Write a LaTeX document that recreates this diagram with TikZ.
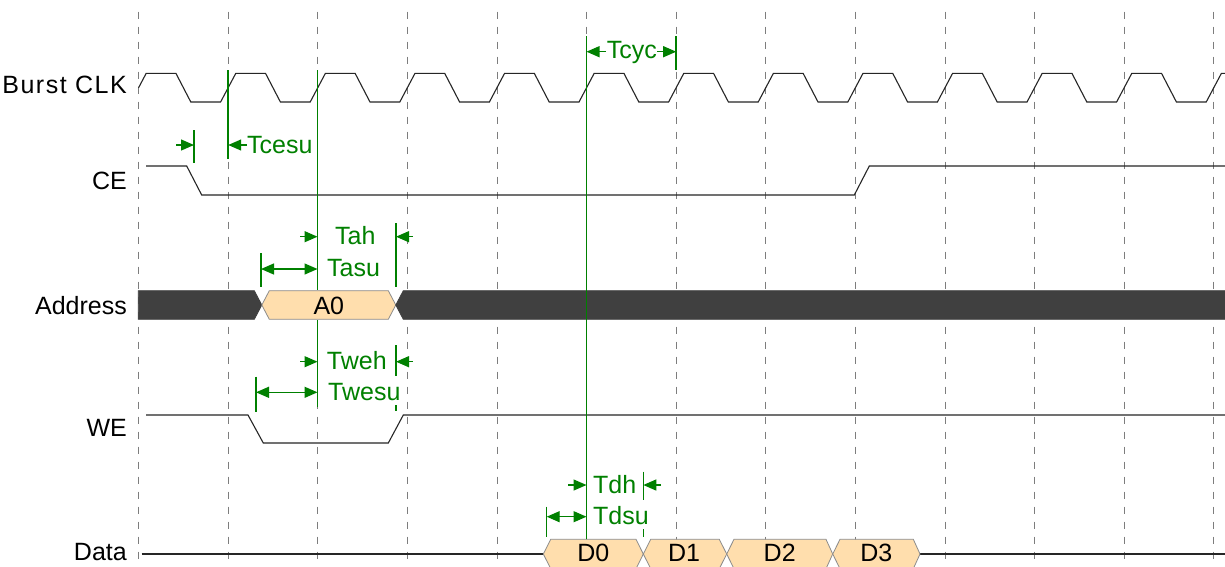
\documentclass[tikz,border=0pt]{standalone}
\usepackage{fontspec}
\setmainfont{Liberation Sans}
\usetikzlibrary{arrows.meta}
\definecolor{tgreen}{RGB}{0,128,0}
\definecolor{busfill}{RGB}{64,64,64}
\definecolor{datafill}{RGB}{255,222,173}
\definecolor{gridgray}{RGB}{125,125,125}
\newcommand\sigfont{\fontsize{25}{30}\selectfont}
\begin{document}
\begin{tikzpicture}[x=1pt,y=-1pt,
  gridline/.style={gridgray, line width=1pt, dash pattern=on 7pt off 8pt},
  sig/.style={black!85, line width=1.1pt, line join=miter},
  busdark/.style={fill=busfill, draw=black!75, line width=0.8pt},
  buslight/.style={fill=datafill, draw=black!45, line width=0.8pt},
  gline/.style={tgreen, line width=1.5pt},
  garrow/.style={tgreen, line width=1.3pt, -{Triangle[length=13pt,width=11pt]}},
  gdouble/.style={tgreen, line width=1.3pt, {Triangle[length=13pt,width=11pt]}-{Triangle[length=13pt,width=11pt]}},
  glabel/.style={text=tgreen, fill=white, inner xsep=3pt, inner ysep=1.5pt, text height=23pt, text depth=3pt, anchor=base west, font=\sigfont},
  siglabel/.style={anchor=base east, inner sep=0pt, font=\sigfont},
  buslabel/.style={anchor=base, inner sep=0pt, font=\sigfont}]
\useasboundingbox (0,0) rectangle (1225,566);
\clip (0,0) rectangle (1225,566);
\fill[white] (0,0) rectangle (1225,566);
% grid
\foreach \k in {0,...,12}
  \draw[gridline] ({138.6+89.6*\k},11.7) -- ({138.6+89.6*\k},566);
% signal labels
\node[siglabel] (lclk) at (127,93.3) {\addfontfeatures{LetterSpace=6}Burst CLK};
\node[siglabel] (lce) at (127,189.3) {CE};
\node[siglabel] (laddr) at (127,314) {Address};
\node[siglabel] (lwe) at (127,436.7) {WE};
\node[siglabel] (ldata) at (127,560.7) {Data};
% clock
\draw[sig] (138.6,87.7) \foreach \k in {0,...,12}{
  -- ({138.6+89.6*\k+7.6},73.3) -- ({138.6+89.6*\k+37.3},73.3)
  -- ({138.6+89.6*\k+52.2},102) -- ({138.6+89.6*\k+82},102) };
% CE
\draw[sig] (146,166) -- (186.7,166) -- (201.7,195) -- (854.3,195) -- (869.3,166) -- (1230,166);
% Address
\draw[busdark] (138.3,290.7) -- (254.3,290.7) -- (261.8,305) -- (254.3,319.3) -- (138.3,319.3) -- cycle;
\draw[buslight] (261.8,305) -- (269.3,290.7) -- (388.3,290.7) -- (395.8,305) -- (388.3,319.3) -- (269.3,319.3) -- cycle;
\draw[busdark] (395.8,305) -- (403.3,290.7) -- (1235,290.7) -- (1235,319.3) -- (403.3,319.3) -- cycle;
\node[buslabel] (a0) at (328.8,314) {A0};
% WE
\draw[sig] (146,415) -- (248,415) -- (263.3,443) -- (388.3,443) -- (403.3,415) -- (1230,415);
% Data
\draw[sig] (141.7,554) -- (543.3,554);
\draw[sig] (920,554) -- (1230,554);
\draw[buslight] (543.3,554) -- (550.7,539.3) -- (636,539.3) -- (643.3,554) -- (636,568.7) -- (550.7,568.7) -- cycle;
\draw[buslight] (643.3,554) -- (650.7,539.3) -- (719.3,539.3) -- (726.7,554) -- (719.3,568.7) -- (650.7,568.7) -- cycle;
\draw[buslight] (726.7,554) -- (734,539.3) -- (826,539.3) -- (832.7,554) -- (826,568.7) -- (734,568.7) -- cycle;
\draw[buslight] (832.7,554) -- (840,539.3) -- (913.3,539.3) -- (920,554) -- (913.3,568.7) -- (840,568.7) -- cycle;
\node[buslabel] (d0) at (593.3,561.7) {D0};
\node[buslabel] (d1) at (684,561.7) {D1};
\node[buslabel] (d2) at (779.7,561.7) {D2};
\node[buslabel] (d3) at (876.3,561.7) {D3};
% green reference lines and ticks
\draw[gline] (194,130) -- (194,163);
\draw[gline] (228.2,70) -- (228.2,159);
\draw[gline] (317.5,70) -- (317.5,290);
\draw[gline] (317.5,320) -- (317.5,407);
\draw[gline] (676.2,36) -- (676.2,70);
\draw[gline] (586.5,36) -- (586.5,539);
\draw[gline] (261,253) -- (261,287);
\draw[gline] (396,223) -- (396,287);
\draw[gline] (396,345) -- (396,411);
\draw[gline] (256,376.7) -- (256,411.7);
\draw[gline] (643.3,471.7) -- (643.3,537);
\draw[gline] (546.7,506.7) -- (546.7,536.7);
% timing labels
\node[glabel] (tcesu) at (244,153) {Tcesu};
\node[glabel] (tcyc) at (603.7,58.5) {Tcyc};
\node[glabel] (tah) at (332,244.7) {Tah};
\node[glabel] (tasu) at (324,276.5) {Tasu};
\node[glabel] (tweh) at (323.7,369.4) {Tweh};
\node[glabel] (twesu) at (325,400) {Twesu};
\node[glabel] (tdh) at (590,493.2) {Tdh};
\node[glabel] (tdsu) at (590,524.2) {Tdsu};
% timing arrows
\draw[garrow] (176,145) -- (194,145);
\draw[garrow] (247,145) -- (228.2,145);
\draw[garrow] (606,51.7) -- (586.5,51.7);
\draw[garrow] (657,51.7) -- (676.2,51.7);
\draw[garrow] (300,236.7) -- (317.5,236.7);
\draw[garrow] (413,236.7) -- (396,236.7);
\draw[gdouble] (261,269) -- (317.5,269);
\draw[garrow] (300,361.7) -- (317.5,361.7);
\draw[garrow] (413,361.7) -- (396,361.7);
\draw[gdouble] (256,392.3) -- (317.5,392.3);
\draw[garrow] (568,485) -- (586.5,485);
\draw[garrow] (661,485) -- (643.3,485);
\draw[gdouble] (546.7,516.7) -- (586.5,516.7);
\end{tikzpicture}
\end{document}
